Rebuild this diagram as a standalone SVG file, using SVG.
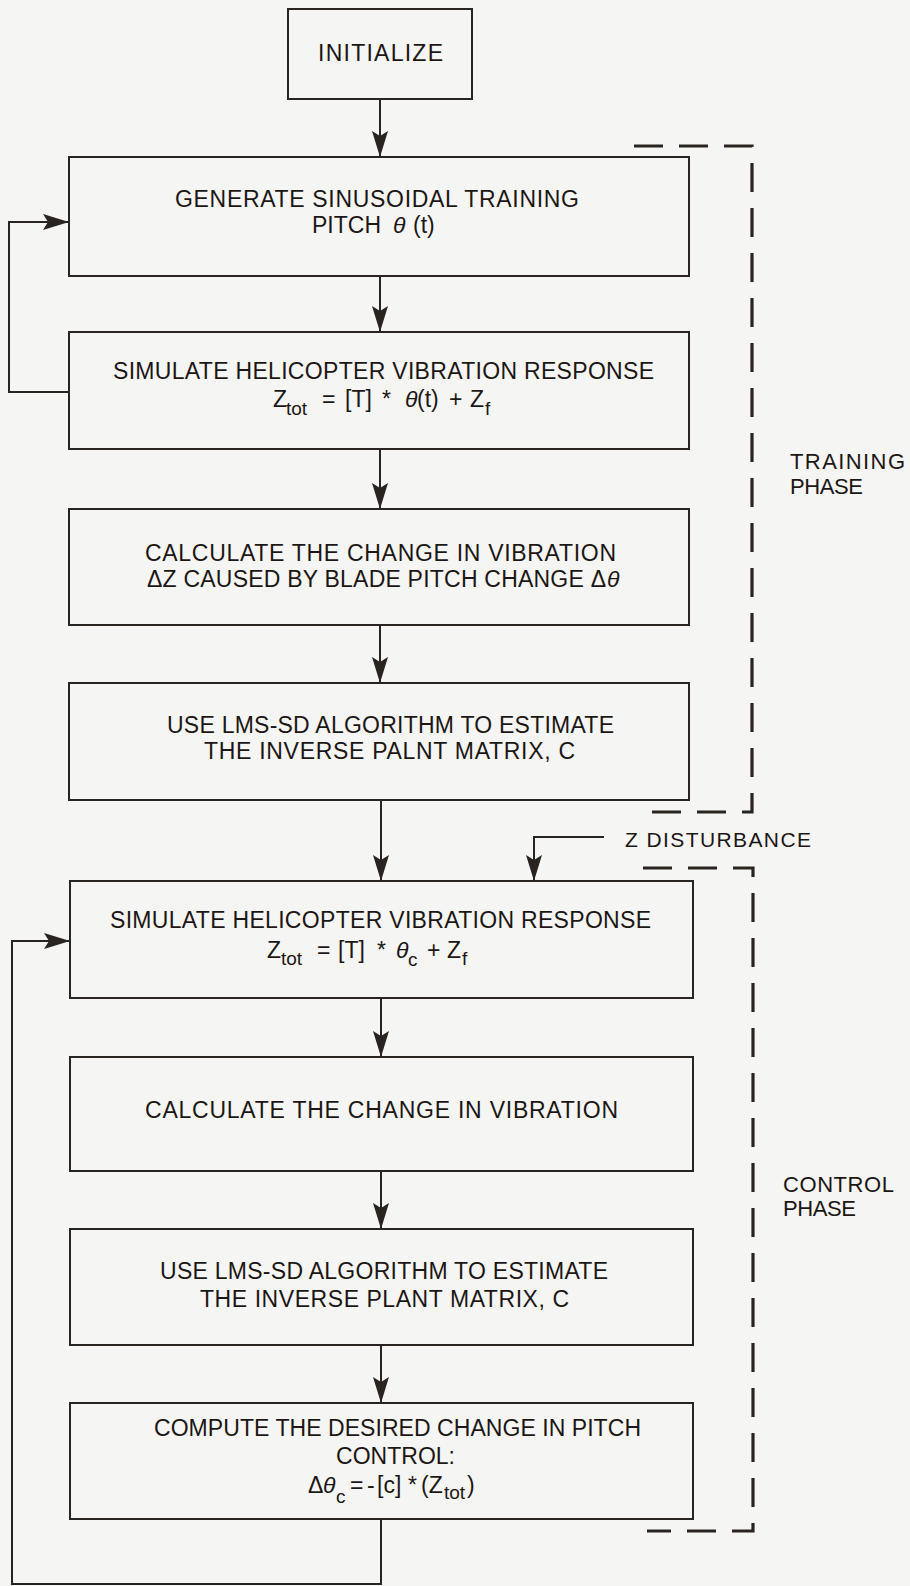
<svg xmlns="http://www.w3.org/2000/svg" width="910" height="1586" viewBox="0 0 910 1586">
<defs>
<marker id="ah" markerUnits="userSpaceOnUse" markerWidth="26" markerHeight="16" refX="26" refY="8" orient="auto">
<path d="M0,0 L26,8 L0,16 L5,8 z" fill="#2a2420"/>
</marker>
<style>
.box{fill:none;stroke:#2a2420;stroke-width:2}
.ln{fill:none;stroke:#2a2420;stroke-width:2}
.dash{fill:none;stroke:#2a2420;stroke-width:3.2;stroke-dasharray:29 16}
text{font-family:"Liberation Sans",Arial,sans-serif;font-size:23px;fill:#1c1714}
.it{font-style:italic}
.sub{font-size:19px}
.lbl{font-size:22px}
.zd{font-size:21px}
</style>
</defs>
<rect width="910" height="1586" fill="#f5f5f3"/>

<g id="connectors">
<line class="ln" x1="380" y1="99" x2="380" y2="157" marker-end="url(#ah)"/>
<line class="ln" x1="380" y1="276" x2="380" y2="332" marker-end="url(#ah)"/>
<polyline class="ln" points="69,392 9,392 9,222 69,222" marker-end="url(#ah)"/>
<line class="ln" x1="380" y1="449" x2="380" y2="509" marker-end="url(#ah)"/>
<line class="ln" x1="380" y1="625" x2="380" y2="683" marker-end="url(#ah)"/>
<line class="ln" x1="381" y1="800" x2="381" y2="881" marker-end="url(#ah)"/>
<polyline class="ln" points="604,837 534,837 534,881" marker-end="url(#ah)"/>
<line class="ln" x1="381" y1="998" x2="381" y2="1057" marker-end="url(#ah)"/>
<line class="ln" x1="381" y1="1171" x2="381" y2="1229" marker-end="url(#ah)"/>
<line class="ln" x1="381" y1="1345" x2="381" y2="1403" marker-end="url(#ah)"/>
<polyline class="ln" points="381,1519 381,1584 12,1584 12,941 70,941" marker-end="url(#ah)"/>
</g>

<g id="n-initialize">
<rect class="box" x="288" y="9" width="184" height="90"/>
<text x="318" y="61" textLength="125" lengthAdjust="spacing">INITIALIZE</text>
</g>

<g id="n-generate">
<rect class="box" x="69" y="157" width="620" height="119"/>
<text x="175" y="207" textLength="404" lengthAdjust="spacing">GENERATE SINUSOIDAL TRAINING</text>
<text y="233"><tspan x="312" textLength="69" lengthAdjust="spacing">PITCH</tspan><tspan x="393" class="it">θ</tspan><tspan x="413">(t)</tspan></text>
</g>

<g id="n-simulate1">
<rect class="box" x="69" y="332" width="620" height="117"/>
<text x="113" y="379" textLength="541" lengthAdjust="spacing">SIMULATE HELICOPTER VIBRATION RESPONSE</text>
<text><tspan x="273" y="407">Z</tspan><tspan x="286" y="415" class="sub">tot</tspan><tspan x="322" y="407">=</tspan><tspan x="345" y="407">[T]</tspan><tspan x="382" y="407">*</tspan><tspan x="405" y="407" class="it">θ</tspan><tspan x="417" y="407">(t)</tspan><tspan x="449" y="407">+</tspan><tspan x="470" y="407">Z</tspan><tspan x="485" y="415" class="sub">f</tspan></text>
</g>

<g id="n-calc1">
<rect class="box" x="69" y="509" width="620" height="116"/>
<text x="145" y="561" textLength="471" lengthAdjust="spacing">CALCULATE THE CHANGE IN VIBRATION</text>
<text y="587"><tspan x="147" textLength="459" lengthAdjust="spacing">ΔZ CAUSED BY BLADE PITCH CHANGE Δ</tspan><tspan x="607" class="it">θ</tspan></text>
</g>

<g id="n-lms1">
<rect class="box" x="69" y="683" width="620" height="117"/>
<text x="167" y="733" textLength="447" lengthAdjust="spacing">USE LMS-SD ALGORITHM TO ESTIMATE</text>
<text x="204" y="759" textLength="371" lengthAdjust="spacing">THE INVERSE PALNT MATRIX, C</text>
</g>

<g id="n-zdist">
<text class="zd" x="625" y="847" textLength="186" lengthAdjust="spacing">Z DISTURBANCE</text>
</g>

<g id="n-simulate2">
<rect class="box" x="70" y="881" width="623" height="117"/>
<text x="110" y="928" textLength="541" lengthAdjust="spacing">SIMULATE HELICOPTER VIBRATION RESPONSE</text>
<text><tspan x="267" y="958">Z</tspan><tspan x="281" y="965" class="sub">tot</tspan><tspan x="317" y="958">=</tspan><tspan x="338" y="958">[T]</tspan><tspan x="377" y="958">*</tspan><tspan x="396" y="958" class="it">θ</tspan><tspan x="408" y="966" class="sub">c</tspan><tspan x="427" y="958">+</tspan><tspan x="447" y="958">Z</tspan><tspan x="462" y="965" class="sub">f</tspan></text>
</g>

<g id="n-calc2">
<rect class="box" x="70" y="1057" width="623" height="114"/>
<text x="145" y="1118" textLength="473" lengthAdjust="spacing">CALCULATE THE CHANGE IN VIBRATION</text>
</g>

<g id="n-lms2">
<rect class="box" x="70" y="1229" width="623" height="116"/>
<text x="160" y="1279" textLength="448" lengthAdjust="spacing">USE LMS-SD ALGORITHM TO ESTIMATE</text>
<text x="200" y="1307" textLength="369" lengthAdjust="spacing">THE INVERSE PLANT MATRIX, C</text>
</g>

<g id="n-compute">
<rect class="box" x="70" y="1403" width="623" height="116"/>
<text x="154" y="1436" textLength="487" lengthAdjust="spacing">COMPUTE THE DESIRED CHANGE IN PITCH</text>
<text x="336" y="1464" textLength="119" lengthAdjust="spacing">CONTROL:</text>
<text><tspan x="308" y="1493">Δ</tspan><tspan x="323" y="1493" class="it">θ</tspan><tspan x="336" y="1503" class="sub">c</tspan><tspan x="350" y="1493">=</tspan><tspan x="367" y="1493">-</tspan><tspan x="377" y="1493">[c]</tspan><tspan x="408" y="1493">*</tspan><tspan x="421" y="1493">(Z</tspan><tspan x="444" y="1499" class="sub">tot</tspan><tspan x="467" y="1493">)</tspan></text>
</g>

<g id="n-training-phase">
<path class="dash" d="M634,146 H752 V812 H641"/>
<text class="lbl" x="790" y="469" textLength="115" lengthAdjust="spacing">TRAINING</text>
<text class="lbl" x="790" y="494" textLength="73" lengthAdjust="spacing">PHASE</text>
</g>

<g id="n-control-phase">
<path class="dash" d="M643,868 H753 V1531 H647"/>
<text class="lbl" x="783" y="1192" textLength="111" lengthAdjust="spacing">CONTROL</text>
<text class="lbl" x="783" y="1216" textLength="73" lengthAdjust="spacing">PHASE</text>
</g>
</svg>
